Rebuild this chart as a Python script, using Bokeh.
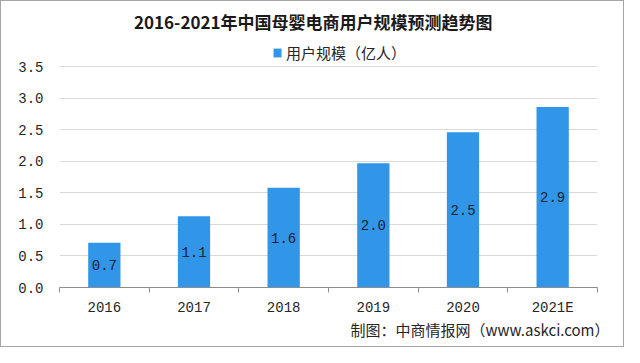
from bokeh.plotting import figure
from bokeh.models import (ColumnDataSource, FixedTicker, Range1d, Label, Legend, LegendItem, Title)
from bokeh.core.properties import value
from bokeh.embed import file_html
from bokeh.resources import INLINE

# ---- data ----
categories = ["2016", "2017", "2018", "2019", "2020", "2021E"]
users = [0.71, 1.13, 1.58, 1.97, 2.46, 2.86]
value_labels = ["0.7", "1.1", "1.6", "2.0", "2.5", "2.9"]
y_ticks = [0.0, 0.5, 1.0, 1.5, 2.0, 2.5, 3.0, 3.5]
y_tick_labels = ["0.0", "0.5", "1.0", "1.5", "2.0", "2.5", "3.0", "3.5"]
title_text = "2016-2021年中国母婴电商用户规模预测趋势图"
legend_text = "用户规模（亿人）"
source_text = "制图：中商情报网（www.askci.com）"

BAR = "#3196e8"
MONO = "Liberation Mono"
CJK = "Noto Sans CJK SC"

x_pos = [i + 0.5 for i in range(len(categories))]
src = ColumnDataSource(dict(x=x_pos, top=users, mid=[u / 2 for u in users],
                            lab=value_labels))

FRAME_H = 286
PX_PER_UNIT = 63.1
p = figure(width=622, height=345, output_backend="svg", toolbar_location=None,
           frame_width=538, frame_height=FRAME_H,
           min_border_left=58, min_border_right=26, min_border_top=0, min_border_bottom=59,
           x_range=Range1d(0, 6), y_range=Range1d(0, FRAME_H / PX_PER_UNIT),
           background_fill_color="white", border_fill_color="white",
           styles={"border": "1px solid #a6a6a6"})
p.outline_line_color = None

r = p.vbar(x="x", top="top", width=0.36, source=src, fill_color=BAR, line_color=None)
p.text(x="x", y="mid", text="lab", source=src, text_align="center", text_baseline="middle",
       text_font=value(MONO), text_font_size="14px", text_color="#1b2230")

# y axis
p.yaxis.ticker = FixedTicker(ticks=y_ticks, minor_ticks=[])
p.yaxis.major_label_overrides = {t: l for t, l in zip(y_ticks, y_tick_labels)}
p.yaxis.axis_line_color = None
p.yaxis.major_tick_line_color = None
p.yaxis.minor_tick_line_color = None
p.yaxis.major_label_text_font = MONO
p.yaxis.major_label_text_font_size = "14px"
p.yaxis.major_label_text_color = "#262626"
p.yaxis.major_label_standoff = 10

# x axis: labels at centers, ticks at category boundaries
p.xaxis.ticker = FixedTicker(ticks=x_pos, minor_ticks=list(range(len(categories) + 1)))
p.xaxis.major_label_overrides = {x: c for x, c in zip(x_pos, categories)}
p.xaxis.major_tick_out = 0
p.xaxis.major_tick_in = 0
p.xaxis.minor_tick_out = 5
p.xaxis.minor_tick_in = 0
p.xaxis.minor_tick_line_color = "#8c8c8c"
p.xaxis.axis_line_color = "#8c8c8c"
p.xaxis.major_label_text_font = MONO
p.xaxis.major_label_text_font_size = "14px"
p.xaxis.major_label_text_color = "#262626"
p.xaxis.major_label_standoff = 7

p.xgrid.grid_line_color = None
p.ygrid.ticker = FixedTicker(ticks=y_ticks[1:])
p.ygrid.grid_line_color = "#d9d9d9"

# title
p.add_layout(Label(x=2.83, y=(FRAME_H - 20) / PX_PER_UNIT, text=title_text,
                   text_align="center", text_baseline="middle",
                   text_font=CJK, text_font_style="bold", text_font_size="17px",
                   text_color="#1a1a1a"))

# legend
legend = Legend(items=[LegendItem(label=legend_text, renderers=[r])],
                location=(213, 224), orientation="horizontal",
                label_text_font=CJK, label_text_font_size="15px", label_text_color="#262626",
                glyph_width=10, glyph_height=11, label_height=15, label_standoff=4,
                padding=0, margin=0, border_line_color=None, background_fill_alpha=0)
p.add_layout(legend, "center")

# source note
p.add_layout(Title(text=source_text, align="right", text_font=CJK, text_font_size="15px",
                   text_font_style="normal", text_color="#262626", standoff=-3,
                   offset=-12), "below")

open("out.html", "w").write(file_html(p, INLINE))
